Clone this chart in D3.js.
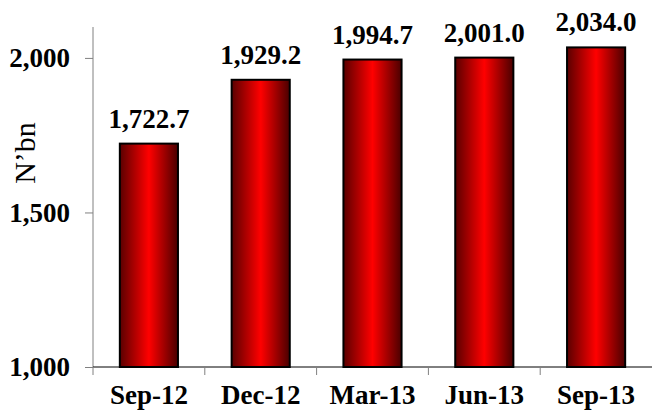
<!DOCTYPE html>
<html>
<head>
<meta charset="utf-8">
<script src="https://cdn.jsdelivr.net/npm/d3@7"></script>
<style>
  body { margin: 0; background: #fff; }
  svg { display: block; }
  text { font-family: "Liberation Serif", "Times New Roman", serif; }
</style>
</head>
<body>
<svg id="canvas" width="652" height="412"></svg>
<script>
const categorie = ["Sep-12", "Dec-12", "Mar-13", "Jun-13", "Sep-13"];
const valori = [1722.7, 1929.2, 1994.7, 2001.0, 2034.0];
const tickY = [1000, 1500, 2000];

const svg = d3.select("#canvas");
const margine = { sinistra: 93, destra: 652, alto: 27, basso: 367 };
const carattere = "'Liberation Serif', 'Times New Roman', serif";

const scalaX = d3.scaleBand()
  .domain(categorie)
  .range([margine.sinistra, margine.destra])
  .paddingInner(0.48)
  .paddingOuter(0.24);

const scalaY = d3.scaleLinear()
  .domain([1000, 2100])
  .range([margine.basso, margine.alto]);

// gradiente delle barre
const grad = svg.append("defs").append("linearGradient")
  .attr("id", "rosso")
  .attr("x1", "0%").attr("x2", "100%")
  .attr("y1", "0%").attr("y2", "0%");
grad.append("stop").attr("offset", "0%").attr("stop-color", "#5a0000");
grad.append("stop").attr("offset", "50%").attr("stop-color", "#ff0000");
grad.append("stop").attr("offset", "100%").attr("stop-color", "#4a0000");

// asse y
const assey = svg.append("g")
  .attr("transform", `translate(${margine.sinistra},0)`)
  .call(d3.axisLeft(scalaY).tickValues(tickY).tickSize(8).tickPadding(15)
    .tickFormat(d3.format(",")));
assey.attr("font-family", carattere);
assey.select(".domain").attr("stroke", "#808080").attr("d", `M0,${margine.alto}V${margine.basso}`);
assey.selectAll(".tick line").attr("stroke", "#808080");
assey.selectAll(".tick text")
  .attr("font-size", 27).attr("font-weight", "bold").attr("fill", "#000")
  .attr("font-family", carattere);

// barre
svg.selectAll("rect.barra")
  .data(valori)
  .enter()
  .append("rect")
  .attr("class", "barra")
  .attr("x", (d, i) => scalaX(categorie[i]))
  .attr("width", scalaX.bandwidth())
  .attr("y", d => scalaY(d))
  .attr("height", d => scalaY(1000) - scalaY(d))
  .attr("fill", "url(#rosso)")
  .attr("stroke", "#000")
  .attr("stroke-width", 2);

// asse x
const passo = scalaX.step();
const assex = svg.append("g").attr("transform", `translate(0,${margine.basso})`);
assex.append("line")
  .attr("x1", margine.sinistra).attr("x2", margine.destra)
  .attr("stroke", "#000").attr("stroke-width", 1);
assex.selectAll("line.tacca")
  .data(d3.range(categorie.length))
  .enter()
  .append("line")
  .attr("class", "tacca")
  .attr("x1", i => margine.sinistra + i * passo)
  .attr("x2", i => margine.sinistra + i * passo)
  .attr("y1", 0).attr("y2", 8)
  .attr("stroke", "#808080");
assex.selectAll("text")
  .data(categorie)
  .enter()
  .append("text")
  .attr("x", d => scalaX(d) + scalaX.bandwidth() / 2)
  .attr("y", 37)
  .attr("text-anchor", "middle")
  .attr("font-family", carattere)
  .attr("font-size", 27)
  .attr("font-weight", "bold")
  .text(d => d);

// etichette valori
svg.selectAll("text.valore")
  .data(valori)
  .enter()
  .append("text")
  .attr("class", "valore")
  .attr("x", (d, i) => scalaX(categorie[i]) + scalaX.bandwidth() / 2)
  .attr("y", d => scalaY(d) - 16)
  .attr("text-anchor", "middle")
  .attr("font-family", carattere)
  .attr("font-size", 27)
  .attr("font-weight", "bold")
  .text(d => d3.format(",.1f")(d));

// titolo asse y
svg.append("text")
  .attr("transform", "translate(35,153) rotate(-90)")
  .attr("text-anchor", "middle")
  .attr("font-family", carattere)
  .attr("font-size", 30)
  .text("N’bn");
</script>
</body>
</html>
